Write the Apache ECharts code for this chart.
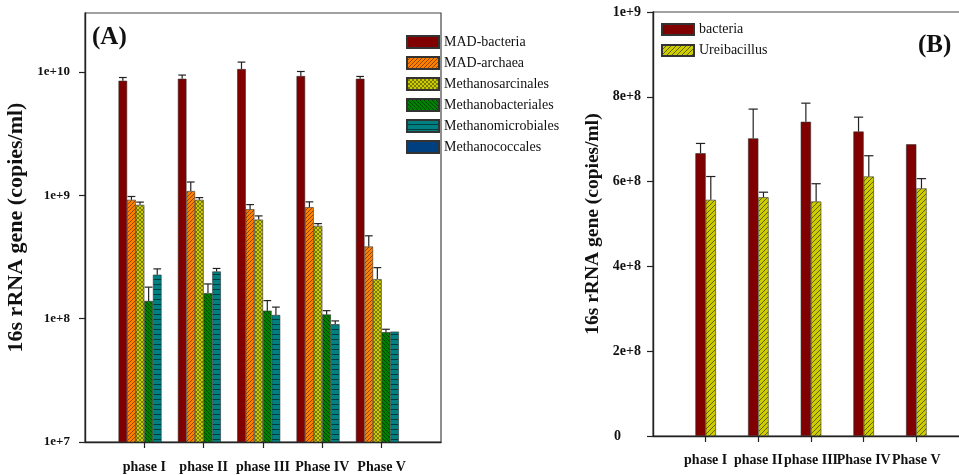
<!DOCTYPE html>
<html>
<head>
<meta charset="utf-8">
<script src="https://cdn.jsdelivr.net/npm/echarts@6/dist/echarts.min.js"></script>
<style>
  html, body { margin: 0; padding: 0; background: #fff; }
  #chart { width: 959px; height: 475px; }
</style>
</head>
<body>
<div id="chart"></div>
<script>
// 分组类别
const phases = ['phase I', 'phase II', 'phase III', 'Phase IV', 'Phase V'];

// (A) 对数轴刻度
const yTicksA = [1e7, 1e8, 1e9, 1e10];
const yTickLabelsA = ['1e+7', '1e+8', '1e+9', '1e+10'];

// (B) 线性轴刻度
const yTicksB = [0, 2e8, 4e8, 6e8, 8e8, 1e9];
const yTickLabelsB = ['0', '2e+8', '4e+8', '6e+8', '8e+8', '1e+9'];

// (A) 各组均值与上误差
const madBacteria = [8.47e9, 8.79e9, 1.054e10, 9.25e9, 8.79e9];
const madBacteriaSd = [0.53e9, 0.63e9, 1.46e9, 0.82e9, 0.39e9];
const madArchaea = [9.18e8, 1.08e9, 7.71e8, 8.0e8, 3.84e8];
const madArchaeaSd = [0.59e8, 2.0e8, 0.69e8, 0.84e8, 0.85e8];
const methanosarcinales = [8.36e8, 9.18e8, 6.35e8, 5.65e8, 2.09e8];
const methanosarcinalesSd = [0.44e8, 0.39e8, 0.45e8, 0.24e8, 0.5e8];
const methanobacteriales = [1.39e8, 1.61e8, 1.16e8, 1.08e8, 7.76e7];
const methanobacterialesSd = [4.1e7, 3.0e7, 2.4e7, 0.8e7, 0.44e7];
const methanomicrobiales = [2.27e8, 2.41e8, 1.07e8, 9.0e7, 7.85e7];
const methanomicrobialesSd = [2.6e7, 1.4e7, 1.7e7, 0.58e7, 0];
const methanococcales = [null, null, null, null, null];
const methanococcalesSd = [0, 0, 0, 0, 0];

// (B) 各组均值与上误差
const bacteria = [6.67e8, 7.02e8, 7.41e8, 7.18e8, 6.88e8];
const bacteriaSd = [0.23e8, 0.69e8, 0.44e8, 0.34e8, 0];
const ureibacillus = [5.57e8, 5.63e8, 5.53e8, 6.12e8, 5.84e8];
const ureibacillusSd = [0.55e8, 0.12e8, 0.42e8, 0.49e8, 0.23e8];

const FONT = 'Liberation Serif';

/**
 * 生成平铺填充图案
 */
function makePattern(bg, size, lines, stroke) {
  const c = document.createElement('canvas');
  c.width = size;
  c.height = size;
  const ctx = c.getContext('2d');
  ctx.fillStyle = bg;
  ctx.fillRect(0, 0, size, size);
  ctx.strokeStyle = stroke;
  ctx.lineWidth = 0.8;
  const s = size;
  ctx.beginPath();
  if (lines.includes('/')) {
    ctx.moveTo(-1, 1); ctx.lineTo(1, -1);
    ctx.moveTo(0, s); ctx.lineTo(s, 0);
    ctx.moveTo(s - 1, s + 1); ctx.lineTo(s + 1, s - 1);
  }
  if (lines.includes('\\')) {
    ctx.moveTo(-1, s - 1); ctx.lineTo(1, s + 1);
    ctx.moveTo(0, 0); ctx.lineTo(s, s);
    ctx.moveTo(s - 1, -1); ctx.lineTo(s + 1, 1);
  }
  if (lines.includes('-')) {
    ctx.moveTo(0, s - 0.5); ctx.lineTo(s, s - 0.5);
  }
  ctx.stroke();
  return { image: c, repeat: 'repeat' };
}

const fills = {
  madBacteria: '#800000',
  madArchaea: makePattern('#ff8000', 4, '/', 'rgba(60,30,0,0.75)'),
  methanosarcinales: makePattern('#cccc00', 4, '/\\', 'rgba(60,60,0,0.7)'),
  methanobacteriales: makePattern('#008000', 4, '\\', 'rgba(0,30,0,0.8)'),
  methanomicrobiales: makePattern('#008080', 5, '-', 'rgba(0,30,30,0.85)'),
  methanococcales: '#004080',
  bacteria: '#800000',
  ureibacillus: makePattern('#cccc00', 5, '/', 'rgba(40,40,0,0.8)')
};

const groupsA = [
  { name: 'MAD-bacteria', values: madBacteria, sd: madBacteriaSd, fill: fills.madBacteria },
  { name: 'MAD-archaea', values: madArchaea, sd: madArchaeaSd, fill: fills.madArchaea },
  { name: 'Methanosarcinales', values: methanosarcinales, sd: methanosarcinalesSd, fill: fills.methanosarcinales },
  { name: 'Methanobacteriales', values: methanobacteriales, sd: methanobacterialesSd, fill: fills.methanobacteriales },
  { name: 'Methanomicrobiales', values: methanomicrobiales, sd: methanomicrobialesSd, fill: fills.methanomicrobiales },
  { name: 'Methanococcales', values: methanococcales, sd: methanococcalesSd, fill: fills.methanococcales }
];
const groupsB = [
  { name: 'bacteria', values: bacteria, sd: bacteriaSd, fill: fills.bacteria },
  { name: 'Ureibacillus', values: ureibacillus, sd: ureibacillusSd, fill: fills.ureibacillus }
];

const GAP_A = 0.13;
const GAP_B = 0.61;

// 两端各留一个空类别，使分组落在刻度 1..5
const padCats = ['', ...phases, ' '];
const padVals = arr => ['-', ...arr.map(v => (v == null ? '-' : v)), '-'];

/**
 * 误差线（仅上半部分）
 */
function errorRenderer(k, n, gap) {
  return function (params, api) {
    const band = api.size([1, 0])[0];
    const groupW = band * (1 - gap);
    const barW = groupW / n;
    const base = api.coord([api.value(0), api.value(1)]);
    const top = api.coord([api.value(0), api.value(2)]);
    const x = base[0] - groupW / 2 + (k + 0.5) * barW;
    const half = barW * 0.45;
    const style = { stroke: '#222', lineWidth: 1.2 };
    return {
      type: 'group',
      children: [
        { type: 'line', shape: { x1: x, y1: base[1], x2: x, y2: top[1] }, style },
        { type: 'line', shape: { x1: x - half, y1: top[1], x2: x + half, y2: top[1] }, style }
      ]
    };
  };
}

function buildSeries(groups, axisIndex, gap) {
  const out = [];
  groups.forEach(g => {
    out.push({
      name: g.name,
      type: 'bar',
      xAxisIndex: axisIndex,
      yAxisIndex: axisIndex,
      data: padVals(g.values),
      barGap: '0%',
      barCategoryGap: (gap * 100) + '%',
      itemStyle: { color: g.fill, borderColor: '#333', borderWidth: 0.6 },
      emphasis: { disabled: true },
      animation: false
    });
  });
  groups.forEach((g, k) => {
    const data = [];
    g.values.forEach((v, i) => {
      if (v != null && g.sd[i] > 0) data.push([i + 1, v, v + g.sd[i]]);
    });
    out.push({
      type: 'custom',
      xAxisIndex: axisIndex,
      yAxisIndex: axisIndex,
      renderItem: errorRenderer(k, groups.length, gap),
      data: data,
      z: 5,
      silent: true,
      animation: false
    });
  });
  return out;
}

const tickFmt = (ticks, labels) => value => {
  const i = ticks.findIndex(t => Math.abs(t - value) <= t * 1e-6 + 1e-9);
  return i >= 0 ? labels[i] : '';
};

const axisLineStyle = { color: '#222', width: 1.4 };

const xAxisCommon = {
  type: 'category',
  data: padCats,
  boundaryGap: false,
  axisLine: { lineStyle: axisLineStyle },
  axisTick: { show: true, length: 6, inside: false, interval: i => i > 0 && i < padCats.length - 1, lineStyle: { color: '#222', width: 1.2 } },
  splitLine: { show: false },
  axisLabel: { interval: 0, hideOverlap: false, color: '#111', fontFamily: FONT, fontWeight: 'bold', fontSize: 14 }
};

const legendCommon = {
  orient: 'vertical',
  padding: 0,
  itemWidth: 32,
  itemGap: 7,
  icon: 'rect',
  selectedMode: false,
  textStyle: { fontFamily: FONT, fontSize: 14, color: '#111' }
};

const titleStyle = { fontFamily: FONT, fontWeight: 'bold', fontSize: 25, color: '#111' };

const chart = echarts.init(document.getElementById('chart'), null, { renderer: 'canvas' });

const option = {
  backgroundColor: '#fff',
  animation: false,
  title: [
    { text: '(A)', left: 92, top: 25, padding: 0, textStyle: titleStyle },
    { text: '(B)', left: 918, top: 33, padding: 0, textStyle: titleStyle }
  ],
  legend: [
    Object.assign({}, legendCommon, { data: groupsA.map(g => g.name), left: 406, top: 35, itemHeight: 12 }),
    Object.assign({}, legendCommon, { data: groupsB.map(g => g.name), left: 661, top: 22.5, itemHeight: 11 })
  ],
  grid: [
    { left: 85, top: 13, width: 356, height: 429, show: true, borderColor: '#444', borderWidth: 1.2, backgroundColor: 'transparent', outerBoundsMode: 'none' },
    { left: 653, top: 12, width: 316, height: 424, show: true, borderColor: '#444', borderWidth: 1.2, backgroundColor: 'transparent', outerBoundsMode: 'none' }
  ],
  xAxis: [
    Object.assign({ gridIndex: 0 }, xAxisCommon, { axisLabel: Object.assign({}, xAxisCommon.axisLabel, { margin: 18 }) }),
    Object.assign({ gridIndex: 1 }, xAxisCommon, { axisLabel: Object.assign({}, xAxisCommon.axisLabel, { margin: 17 }) })
  ],
  yAxis: [
    {
      gridIndex: 0,
      type: 'log',
      logBase: 10,
      min: 1e7,
      max: 3e10,
      name: '16s rRNA gene (copies/ml)',
      nameLocation: 'middle',
      nameGap: 58,
      nameTextStyle: { fontFamily: FONT, fontWeight: 'bold', fontSize: 22, color: '#111' },
      axisLine: { show: true, lineStyle: axisLineStyle },
      axisTick: { show: true, length: 6, customValues: yTicksA, lineStyle: { color: '#222', width: 1.2 } },
      minorTick: { show: false },
      splitLine: { show: false },
      axisLabel: {
        customValues: yTicksA,
        formatter: tickFmt(yTicksA, yTickLabelsA),
        margin: 15,
        color: '#111', fontFamily: FONT, fontWeight: 'bold', fontSize: 13
      }
    },
    {
      gridIndex: 1,
      type: 'value',
      min: 0,
      max: 1e9,
      interval: 2e8,
      name: '16s rRNA gene (copies/ml)',
      nameLocation: 'middle',
      nameGap: 50,
      nameTextStyle: { fontFamily: FONT, fontWeight: 'bold', fontSize: 19.5, color: '#111' },
      axisLine: { show: true, lineStyle: axisLineStyle },
      axisTick: { show: true, length: 6, lineStyle: { color: '#222', width: 1.2 } },
      splitLine: { show: false },
      axisLabel: {
        formatter: value => {
          const s = tickFmt(yTicksB, yTickLabelsB)(value);
          return value === 0 ? '{z|' + s + '}' : s;
        },
        rich: { z: { padding: [0, 20, 0, 0], fontFamily: FONT, fontWeight: 'bold', fontSize: 14, color: '#111' } },
        margin: 12,
        color: '#111', fontFamily: FONT, fontWeight: 'bold', fontSize: 14
      }
    }
  ],
  series: [
    ...buildSeries(groupsA, 0, GAP_A),
    ...buildSeries(groupsB, 1, GAP_B)
  ]
};

chart.setOption(option);
</script>
</body>
</html>
